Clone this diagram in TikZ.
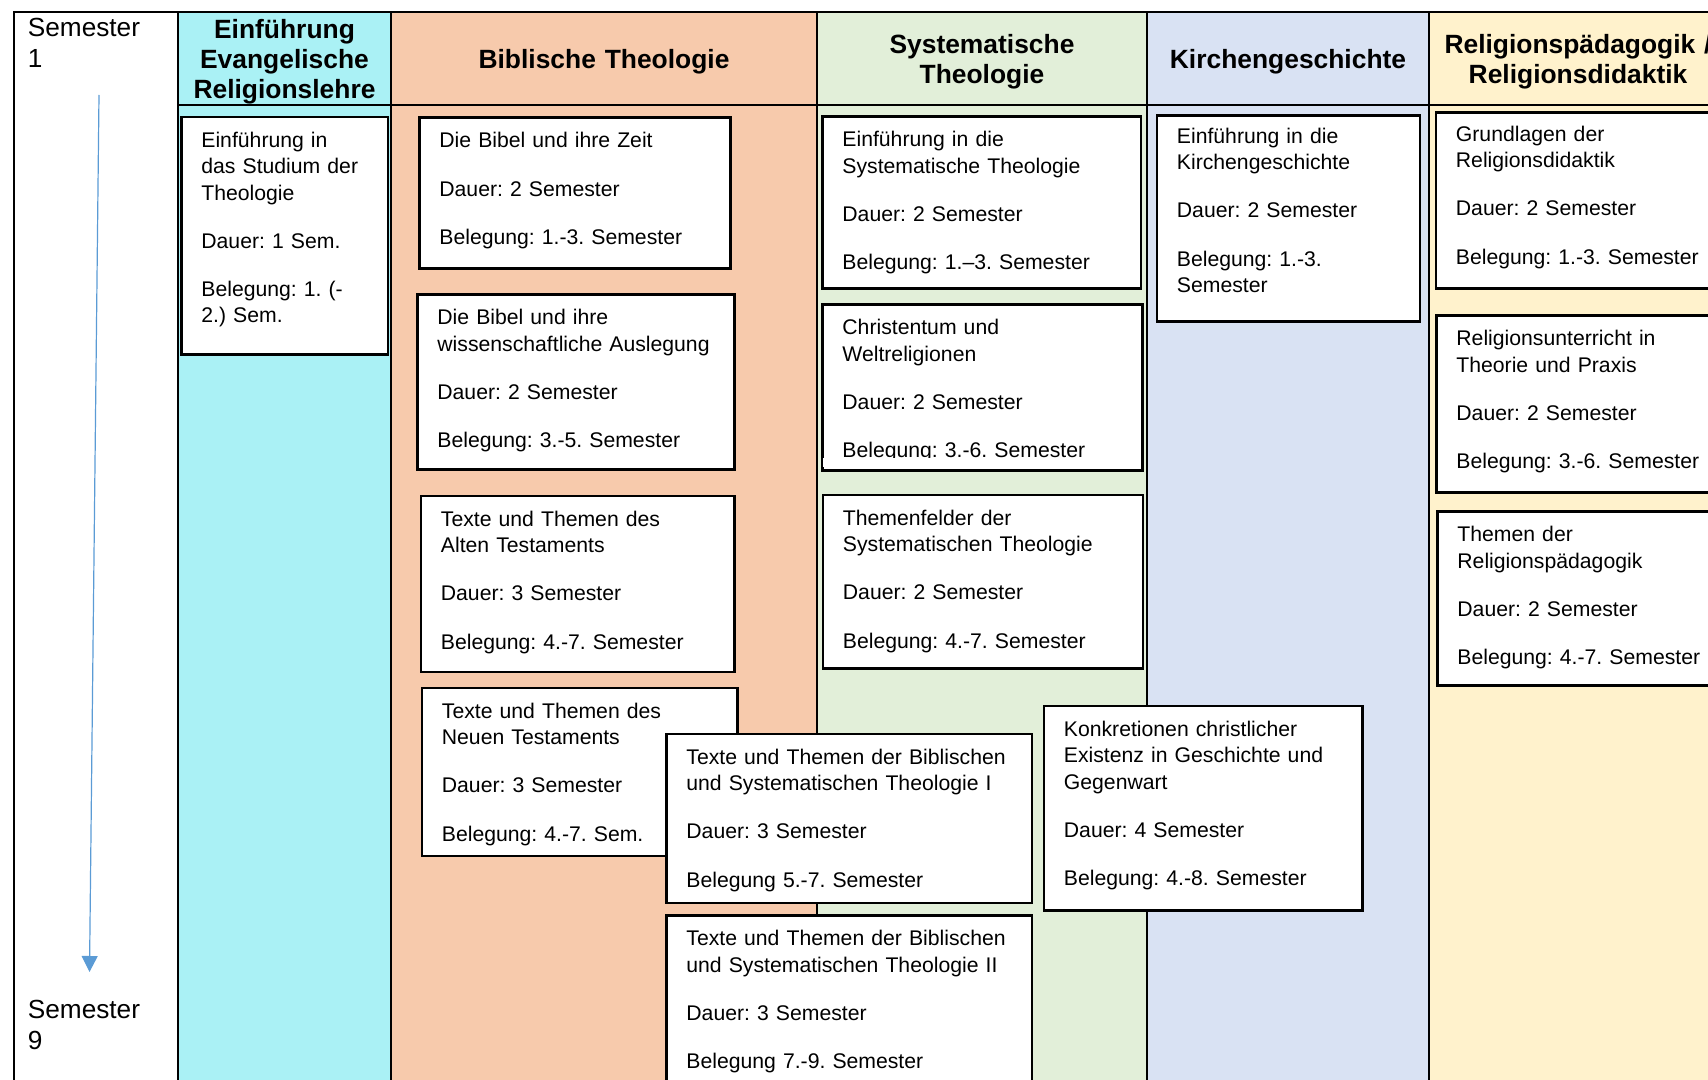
\documentclass[tikz,border=0pt]{standalone}
\usepackage{fontspec}
\setmainfont{Liberation Sans}
\usetikzlibrary{arrows.meta}

\definecolor{einf}{HTML}{AAF1F5}
\definecolor{bibel}{HTML}{F7CAAC}
\definecolor{syst}{HTML}{E2EFD9}
\definecolor{kirche}{HTML}{D9E2F3}
\definecolor{relpaed}{HTML}{FFF2CC}
\definecolor{pfeil}{HTML}{5B9BD5}
\newcommand{\luecke}{\\[10.95pt]}
\frenchspacing

\begin{document}
\begin{tikzpicture}[
  x=0.5pt, y=-0.5pt, % 1 unit = 1 pixel, y goes down
  modul/.style={draw, line width=1.4pt, fill=white, anchor=north west,
    align=left, inner xsep=10pt, inner ysep=0pt, text height=15.25pt,
    font=\fontsize{10.6pt}{13.15pt}\selectfont},
  kopf/.style={anchor=base, align=center, inner sep=0pt, text width=200pt,
    font=\bfseries\fontsize{13.2pt}{15pt}\selectfont},
  sem/.style={anchor=base west, align=left, inner sep=0pt, text width=60pt,
    font=\fontsize{13.1pt}{15.5pt}\selectfont},
  linie/.style={line width=1pt}
]
  \useasboundingbox (0,0) rectangle (1708,1080);
  \clip (0,0) rectangle (1708,1080);

  % columns
  \fill[einf] (178,12) rectangle (391,1090);
  \fill[bibel] (391,12) rectangle (817,1090);
  \fill[syst] (817,12) rectangle (1147,1090);
  \fill[kirche] (1147,12) rectangle (1429,1090);
  \fill[relpaed] (1429,12) rectangle (1730,1090);
  \draw[linie] (14,1090) -- (14,12) -- (1730,12);
  \draw[linie] (178,105) -- (1730,105);
  \foreach \x in {178,391,817,1147,1429}
    \draw[linie] (\x,12) -- (\x,1090);

  % headings
  \node[kopf] (kEin) at (284.5,38.3) {Einführung\\Evangelische\\Religionslehre};
  \node[kopf] (kBib) at (604,68.3) {Biblische Theologie};
  \node[kopf] (kSys) at (982,53.3) {Systematische\\Theologie};
  \node[kopf] (kKG) at (1288,68.3) {Kirchengeschichte};
  \node[kopf] (kRP) at (1578,53.3) {Religionspädagogik /\\Religionsdidaktik};

  % semester axis
  \node[sem] (sem1) at (27.5,36.7) {Semester\\1};
  \node[sem] (sem9) at (27.5,1018) {Semester\\9};
  \coordinate (pfeilA) at (99,95);
  \coordinate (pfeilB) at (89.5,972);
  \draw[pfeil, line width=0.6pt, -{Triangle[width=8pt,length=8pt]}] (pfeilA) -- (pfeilB);

  % Einfuehrung
  \node[modul, text width=83.25pt, text depth=103.6pt] (studium) at (180,115.7)
    {Einführung in\\das Studium der\\Theologie\luecke Dauer: 1 Sem.\luecke Belegung: 1. (-\\2.) Sem.};

  % Biblische Theologie
  \node[modul, text width=135.5pt, text depth=60.25pt] (bibZeit) at (418,116)
    {Die Bibel und ihre Zeit\luecke Dauer: 2 Semester\luecke Belegung: 1.-3. Semester};
  \node[modul, text width=138.5pt, text depth=72.25pt] (bibAusl) at (416,293)
    {Die Bibel und ihre\\wissenschaftliche Auslegung\luecke Dauer: 2 Semester\luecke Belegung: 3.-5. Semester};
  \node[modul, text width=136.75pt, text depth=72.75pt] (altT) at (419.5,494.5)
    {Texte und Themen des\\Alten Testaments\luecke Dauer: 3 Semester\luecke Belegung: 4.-7. Semester};
  \node[modul, text width=137.75pt, text depth=68.75pt] (neuT) at (420.5,686.5)
    {Texte und Themen des\\Neuen Testaments\luecke Dauer: 3 Semester\luecke Belegung: 4.-7. Sem.};

  % Systematische Theologie
  \node[modul, text width=139.25pt, text depth=70.75pt] (sysEinf) at (821,115)
    {Einführung in die\\Systematische Theologie\luecke Dauer: 2 Semester\luecke Belegung: 1.--3. Semester};
  \node[modul, text width=140pt, text depth=67.75pt] (weltrel) at (821,303)
    {Christentum und\\Weltreligionen\luecke Dauer: 2 Semester\luecke Belegung: 3.-6. Semester};
  \fill[white] (822.6,458.5) rectangle (1139.4,467.3); % text cut off at the bottom
  \node[modul, text width=140pt, text depth=71.5pt] (themenf) at (821.5,493.5)
    {Themenfelder der\\Systematischen Theologie\luecke Dauer: 2 Semester\luecke Belegung: 4.-7. Semester};

  % both columns
  \node[modul, text width=162.75pt, text depth=69.25pt] (bibSys1) at (665,732.5)
    {Texte und Themen der Biblischen\\und Systematischen Theologie I\luecke Dauer: 3 Semester\luecke Belegung 5.-7. Semester};
  \node[modul, text width=162.75pt, text depth=82.75pt] (bibSys2) at (665,914)
    {Texte und Themen der Biblischen\\und Systematischen Theologie II\luecke Dauer: 3 Semester\luecke Belegung 7.-9. Semester};

  % Kirchengeschichte
  \node[modul, text width=111.5pt, text height=14pt, text depth=89pt] (kgEinf) at (1155.5,114)
    {Einführung in die\\Kirchengeschichte\luecke Dauer: 2 Semester\luecke Belegung: 1.-3.\\Semester};
  \node[modul, text width=139.25pt, text depth=87pt] (konkret) at (1042.5,704.5)
    {Konkretionen christlicher\\Existenz in Geschichte und\\Gegenwart\luecke Dauer: 4 Semester\luecke Belegung: 4.-8. Semester};

  % Religionspaedagogik
  \node[modul, text width=125.75pt, text height=14.25pt, text depth=73.75pt] (rdGrund) at (1434.5,111.5)
    {Grundlagen der\\Religionsdidaktik\luecke Dauer: 2 Semester\luecke Belegung: 1.-3. Semester};
  \node[modul, text width=125.5pt, text depth=73.25pt] (ruPraxis) at (1435,314)
    {Religionsunterricht in\\Theorie und Praxis\luecke Dauer: 2 Semester\luecke Belegung: 3.-6. Semester};
  \node[modul, text width=125pt, text depth=71.75pt] (rpThemen) at (1436,510)
    {Themen der\\Religionspädagogik\luecke Dauer: 2 Semester\luecke Belegung: 4.-7. Semester};
\end{tikzpicture}
\end{document}
